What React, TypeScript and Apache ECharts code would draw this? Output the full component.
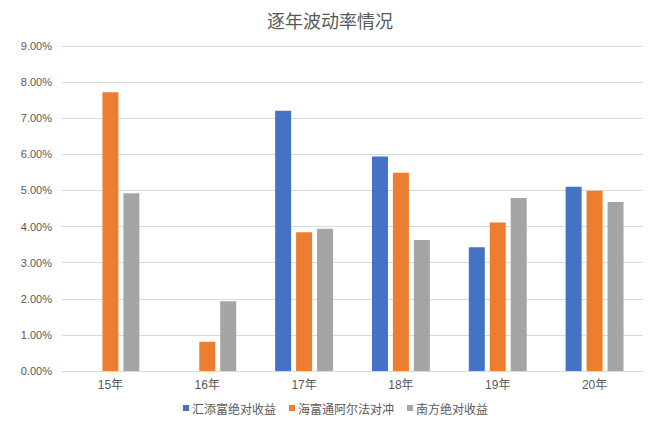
import React, { useEffect, useRef } from "react";
import * as echarts from "echarts";

const categories = ["15年", "16年", "17年", "18年", "19年", "20年"];
const seriesNames = ["汇添富绝对收益", "海富通阿尔法对冲", "南方绝对收益"];
const huitianfu = [null, null, 7.21, 5.94, 3.43, 5.1];
const haifutong = [7.72, 0.81, 3.84, 5.49, 4.11, 4.99];
const nanfang = [4.92, 1.93, 3.94, 3.63, 4.79, 4.68];
const colors = ["#4472C4", "#ED7D31", "#A5A5A5"];

const FONT = "'Liberation Sans', 'Noto Sans CJK SC', sans-serif";

export default function App() {
  const ref = useRef<HTMLDivElement>(null);
  useEffect(() => {
    if (!ref.current) return;
    const chart = echarts.init(ref.current, null, { renderer: "svg" });
    const data = [huitianfu, haifutong, nanfang];
    chart.setOption({
      animation: false,
      backgroundColor: "#ffffff",
      title: {
        text: "逐年波动率情况",
        left: "center",
        top: 6,
        textStyle: {
          color: "#595959",
          fontSize: 18,
          fontWeight: "normal",
          fontFamily: "'Noto Sans CJK SC', sans-serif",
        },
      },
      grid: { left: 62, right: 17, top: 46, bottom: 56 },
      legend: {
        bottom: 8,
        left: 178,
        itemWidth: 6,
        itemHeight: 6,
        itemGap: 13,
        icon: "rect",
        textStyle: {
          color: "#595959",
          fontSize: 12,
          fontFamily: "'Noto Sans CJK SC', sans-serif",
          padding: [0, 0, 0, -2],
        },
        data: seriesNames,
      },
      xAxis: {
        type: "category",
        data: categories,
        axisLine: { lineStyle: { color: "#D9D9D9" } },
        axisTick: { show: false },
        axisLabel: {
          color: "#595959",
          fontSize: 12,
          margin: 8,
          fontFamily: FONT,
        },
      },
      yAxis: {
        type: "value",
        min: 0,
        max: 9,
        interval: 1,
        axisLine: { show: false },
        axisTick: { show: false },
        splitLine: { lineStyle: { color: "#D9D9D9" } },
        axisLabel: {
          color: "#595959",
          fontSize: 11,
          margin: 10,
          fontFamily: FONT,
          formatter: (v: number) => v.toFixed(2) + "%",
        },
      },
      series: seriesNames.map((name, i) => ({
        name,
        type: "bar",
        data: data[i],
        barWidth: 16,
        barGap: "31%",
        itemStyle: { color: colors[i] },
      })),
    });
    return () => chart.dispose();
  }, []);
  return <div ref={ref} style={{ width: 660, height: 427, position: "absolute", left: 0, top: 0 }} />;
}
